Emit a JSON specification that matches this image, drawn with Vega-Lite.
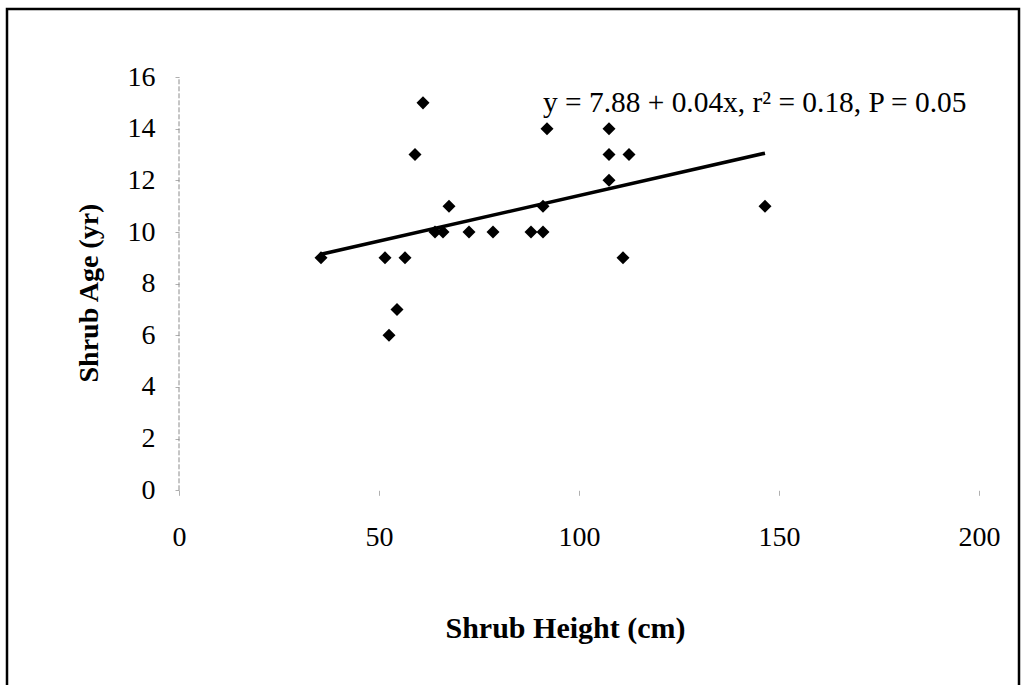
{
  "$schema": "https://vega.github.io/schema/vega-lite/v6.json",
  "autosize": "none",
  "width": 1012,
  "height": 680,
  "padding": {"left": 7, "top": 9, "right": 2, "bottom": 0},
  "background": "white",
  "config": {
    "view": {"stroke": "black", "strokeWidth": 2.5},
    "font": "Liberation Serif",
    "axis": {"labelFont": "Liberation Serif", "titleFont": "Liberation Serif"}
  },
  "data": {
    "values": [
      {"height": 61, "age": 15},
      {"height": 59, "age": 13},
      {"height": 67.5, "age": 11},
      {"height": 64, "age": 10},
      {"height": 66, "age": 10},
      {"height": 72.5, "age": 10},
      {"height": 78.5, "age": 10},
      {"height": 35.5, "age": 9},
      {"height": 51.5, "age": 9},
      {"height": 56.5, "age": 9},
      {"height": 54.5, "age": 7},
      {"height": 52.5, "age": 6},
      {"height": 92, "age": 14},
      {"height": 107.5, "age": 14},
      {"height": 107.5, "age": 13},
      {"height": 112.5, "age": 13},
      {"height": 107.5, "age": 12},
      {"height": 91, "age": 11},
      {"height": 146.5, "age": 11},
      {"height": 88, "age": 10},
      {"height": 91, "age": 10},
      {"height": 111, "age": 9}
    ]
  },
  "layer": [
    {
      "mark": {"type": "point", "shape": "diamond", "filled": true, "color": "black", "size": 170, "opacity": 1},
      "encoding": {
        "x": {
          "field": "height",
          "type": "quantitative",
          "scale": {"domain": [-43, 210], "nice": false, "zero": false},
          "axis": {
            "values": [0, 50, 100, 150, 200],
            "offset": -198.7,
            "domain": false,
            "grid": false,
            "tickColor": "#b0b0b0",
            "tickSize": 5,
            "labelFont": "Liberation Serif",
            "labelFontSize": 28,
            "labelColor": "black",
            "labelPadding": 28,
            "title": "Shrub Height (cm)",
            "titleFont": "Liberation Serif",
            "titleFontSize": 30,
            "titleFontWeight": "bold",
            "titleColor": "black",
            "titleX": 558,
            "titleY": 138,
            "titleAlign": "center",
            "titleBaseline": "middle"
          }
        },
        "y": {
          "field": "age",
          "type": "quantitative",
          "scale": {"domain": [-7.693, 18.634], "nice": false, "zero": false},
          "axis": {
            "values": [0, 2, 4, 6, 8, 10, 12, 14, 16],
            "offset": -172,
            "domain": false,
            "grid": false,
            "tickColor": "#b0b0b0",
            "tickSize": 4,
            "labelFont": "Liberation Serif",
            "labelFontSize": 28,
            "labelColor": "black",
            "labelPadding": 20,
            "title": "Shrub Age (yr)",
            "titleFont": "Liberation Serif",
            "titleFontSize": 28,
            "titleFontWeight": "bold",
            "titleColor": "black",
            "titleAngle": -90,
            "titleX": -89.5,
            "titleY": 283.5,
            "titleAlign": "center",
            "titleBaseline": "middle"
          }
        }
      }
    },
    {
      "data": {"values": [{}]},
      "mark": {"type": "rule", "color": "#8c8c8c", "strokeDash": [5, 2], "strokeWidth": 1},
      "encoding": {
        "x": {"datum": 0, "type": "quantitative"},
        "y": {"datum": 0, "type": "quantitative"},
        "y2": {"datum": 16}
      }
    },
    {
      "transform": [{"regression": "age", "on": "height"}],
      "mark": {"type": "line", "color": "black", "strokeWidth": 3.5},
      "encoding": {
        "x": {"field": "height", "type": "quantitative"},
        "y": {"field": "age", "type": "quantitative"}
      }
    },
    {
      "data": {"values": [{"label": "y = 7.88 + 0.04x, r² = 0.18, P = 0.05"}]},
      "mark": {"type": "text", "align": "left", "baseline": "middle", "fontSize": 29.4, "font": "Liberation Serif", "color": "black"},
      "encoding": {
        "x": {"datum": 91, "type": "quantitative"},
        "y": {"datum": 15, "type": "quantitative"},
        "text": {"field": "label"}
      }
    }
  ]
}
